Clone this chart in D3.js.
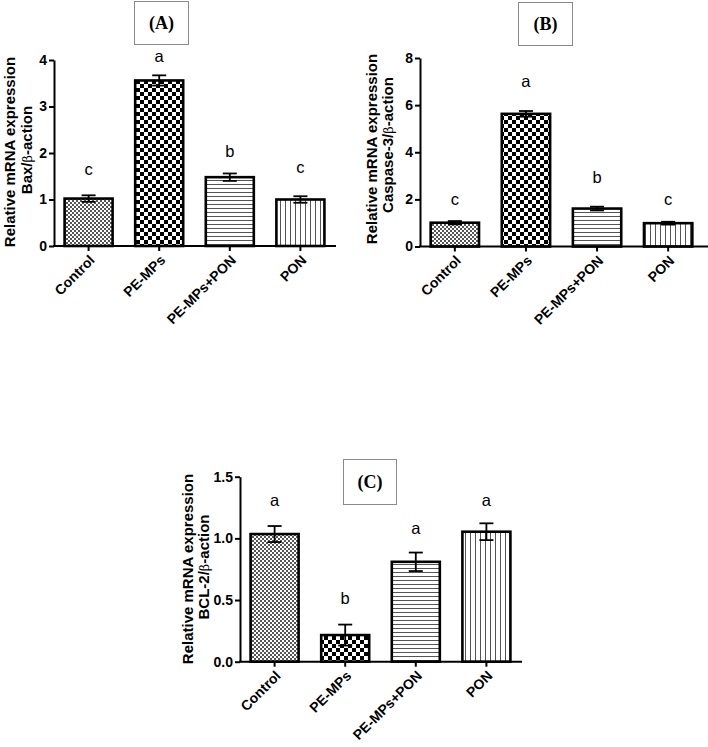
<!DOCTYPE html>
<html>
<head>
<meta charset="utf-8">
<script src="https://cdn.jsdelivr.net/npm/d3@7"></script>
<style>
  html, body { margin: 0; padding: 0; background: #fff; }
  svg { display: block; }
</style>
</head>
<body>
<svg id="chart" width="708" height="747"></svg>
<script>
// ---------- DATA ----------
const categories = ["Control", "PE-MPs", "PE-MPs+PON", "PON"];

const baxValues = [1.02, 3.56, 1.48, 1.00];
const baxErrors = [0.07, 0.11, 0.08, 0.07];
const baxLetters = ["c", "a", "b", "c"];
const baxLetterPos = [1.53, 3.96, 1.91, 1.57];
const baxTicks = [0, 1, 2, 3, 4];

const caspValues = [1.01, 5.63, 1.61, 0.99];
const caspErrors = [0.07, 0.12, 0.08, 0.06];
const caspLetters = ["c", "a", "b", "c"];
const caspLetterPos = [1.76, 6.76, 2.69, 1.76];
const caspTicks = [0, 2, 4, 6, 8];

const bclValues = [1.035, 0.216, 0.81, 1.054];
const bclErrors = [0.065, 0.085, 0.075, 0.068];
const bclLetters = ["a", "b", "a", "a"];
const bclLetterPos = [1.263, 0.468, 1.036, 1.263];
const bclTicks = [0, 0.5, 1.0, 1.5];

const panelTitles = ["(A)", "(B)", "(C)"];
const yLabelLine1 = "Relative mRNA expression";
const yLabelGenes = ["Bax", "Caspase-3", "BCL-2"];

// ---------- SVG + PATTERNS ----------
const svg = d3.select("#chart");
const defs = svg.append("defs");

// fine checker (Control)
const p0 = defs.append("pattern").attr("id", "pFine").attr("patternUnits", "userSpaceOnUse")
  .attr("width", 4).attr("height", 4);
p0.append("rect").attr("width", 4).attr("height", 4).attr("fill", "#fff");
p0.append("rect").attr("x", 0).attr("y", 0).attr("width", 2).attr("height", 2).attr("fill", "#555");
p0.append("rect").attr("x", 2).attr("y", 2).attr("width", 2).attr("height", 2).attr("fill", "#555");

// coarse checker (PE-MPs)
const p1 = defs.append("pattern").attr("id", "pCoarse").attr("patternUnits", "userSpaceOnUse")
  .attr("width", 8).attr("height", 8);
p1.append("rect").attr("width", 8).attr("height", 8).attr("fill", "#fff");
p1.append("rect").attr("x", 0).attr("y", 0).attr("width", 4).attr("height", 4).attr("fill", "#000");
p1.append("rect").attr("x", 4).attr("y", 4).attr("width", 4).attr("height", 4).attr("fill", "#000");

// horizontal lines (PE-MPs+PON)
const p2 = defs.append("pattern").attr("id", "pHoriz").attr("patternUnits", "userSpaceOnUse")
  .attr("width", 4).attr("height", 4);
p2.append("rect").attr("width", 4).attr("height", 4).attr("fill", "#fff");
p2.append("rect").attr("x", 0).attr("y", 0).attr("width", 4).attr("height", 1).attr("fill", "#555");

// vertical lines (PON)
const p3 = defs.append("pattern").attr("id", "pVert").attr("patternUnits", "userSpaceOnUse")
  .attr("width", 5).attr("height", 5);
p3.append("rect").attr("width", 5).attr("height", 5).attr("fill", "#fff");
p3.append("rect").attr("x", 0).attr("y", 0).attr("width", 1).attr("height", 5).attr("fill", "#555");

const fills = ["url(#pFine)", "url(#pCoarse)", "url(#pHoriz)", "url(#pVert)"];

// ---------- PANEL DRAWING ----------
function drawPanel(cfg) {
  const g = svg.append("g");
  const x = d3.scaleBand().domain(categories).range([cfg.x0, cfg.x1])
    .paddingInner(0.32).paddingOuter(0.15);
  const y = d3.scaleLinear().domain([0, d3.max(cfg.ticks)]).range([cfg.y0, cfg.yTop]);

  const rows = categories.map((c, i) => ({
    c, v: cfg.values[i], e: cfg.errors[i], l: cfg.letters[i], lp: cfg.letterPos[i], f: fills[i]
  }));

  // bars
  g.selectAll("rect.bar").data(rows).enter().append("rect")
    .attr("class", "bar")
    .attr("x", d => x(d.c))
    .attr("y", d => y(d.v))
    .attr("width", x.bandwidth())
    .attr("height", d => y(0) - y(d.v))
    .attr("fill", d => d.f)
    .attr("stroke", "#000")
    .attr("stroke-width", 2.6);

  // error bars
  const eb = g.selectAll("g.err").data(rows).enter().append("g").attr("class", "err");
  eb.append("line")
    .attr("x1", d => x(d.c) + x.bandwidth() / 2).attr("x2", d => x(d.c) + x.bandwidth() / 2)
    .attr("y1", d => y(d.v - d.e)).attr("y2", d => y(d.v + d.e))
    .attr("stroke", "#000").attr("stroke-width", 1.8);
  eb.append("line")
    .attr("x1", d => x(d.c) + x.bandwidth() / 2 - 7).attr("x2", d => x(d.c) + x.bandwidth() / 2 + 7)
    .attr("y1", d => y(d.v + d.e)).attr("y2", d => y(d.v + d.e))
    .attr("stroke", "#000").attr("stroke-width", 1.8);
  eb.append("line")
    .attr("x1", d => x(d.c) + x.bandwidth() / 2 - 7).attr("x2", d => x(d.c) + x.bandwidth() / 2 + 7)
    .attr("y1", d => y(d.v - d.e)).attr("y2", d => y(d.v - d.e))
    .attr("stroke", "#000").attr("stroke-width", 1.8);

  // significance letters
  g.selectAll("text.sig").data(rows).enter().append("text")
    .attr("class", "sig")
    .attr("x", d => x(d.c) + x.bandwidth() / 2)
    .attr("y", d => y(d.lp))
    .attr("text-anchor", "middle")
    .attr("font-family", "Liberation Sans, Arial, sans-serif")
    .attr("font-size", 16.5)
    .attr("fill", "#000")
    .text(d => d.l);

  // y axis
  const ya = g.append("g").attr("transform", `translate(${cfg.x0},0)`)
    .call(d3.axisLeft(y).tickValues(cfg.ticks).tickSize(5).tickSizeOuter(0).tickPadding(2)
      .tickFormat(cfg.fmt));
  ya.select(".domain").attr("stroke", "#000").attr("stroke-width", 2);
  ya.selectAll(".tick line").attr("stroke", "#000").attr("stroke-width", 2);
  ya.selectAll(".tick text")
    .attr("font-family", "Liberation Sans, Arial, sans-serif")
    .attr("font-weight", "bold").attr("font-size", 14).attr("fill", "#000");

  // x axis
  const xa = g.append("g").attr("transform", `translate(0,${cfg.y0})`)
    .call(d3.axisBottom(x).tickSize(5).tickSizeOuter(0));
  xa.select(".domain").remove();
  xa.append("line").attr("x1", cfg.x0 - 1).attr("x2", cfg.xEnd).attr("y1", 0).attr("y2", 0)
    .attr("stroke", "#000").attr("stroke-width", 2);
  xa.selectAll(".tick line").attr("stroke", "#000").attr("stroke-width", 2);
  xa.selectAll(".tick text")
    .attr("font-family", "Liberation Sans, Arial, sans-serif")
    .attr("font-weight", "bold").attr("font-size", 14).attr("fill", "#000")
    .attr("text-anchor", "end")
    .attr("y", 0).attr("dy", 0)
    .attr("transform", "translate(7,15) rotate(-45)");

  // y label (two lines)
  g.append("text")
    .attr("transform", `translate(${cfg.lx1},${cfg.ly}) rotate(-90)`)
    .attr("text-anchor", "middle")
    .attr("font-family", "Liberation Sans, Arial, sans-serif")
    .attr("font-weight", "bold").attr("font-size", 15).attr("fill", "#000")
    .text(yLabelLine1);
  const yl2 = g.append("text")
    .attr("transform", `translate(${cfg.lx2},${cfg.ly2}) rotate(-90)`)
    .attr("text-anchor", "middle")
    .attr("font-family", "Liberation Sans, Arial, sans-serif")
    .attr("font-weight", "bold").attr("font-size", 15).attr("fill", "#000");
  yl2.append("tspan").text(cfg.gene + "/");
  yl2.append("tspan").attr("font-weight", "normal").attr("font-family", "DejaVu Serif, serif").attr("font-size", 13).text("β");
  yl2.append("tspan").text("-action");

  // title box
  g.append("rect").attr("x", cfg.bx).attr("y", cfg.by).attr("width", cfg.bw).attr("height", cfg.bh)
    .attr("fill", "#fff").attr("stroke", "#8a8a8a").attr("stroke-width", 1);
  g.append("text").attr("x", cfg.bx + cfg.bw / 2).attr("y", cfg.by + cfg.bh / 2 + 6)
    .attr("text-anchor", "middle")
    .attr("font-family", "Liberation Serif, Times New Roman, serif")
    .attr("font-weight", "bold").attr("font-size", 18).attr("fill", "#000")
    .text(cfg.title);
}

drawPanel({
  values: baxValues, errors: baxErrors, letters: baxLetters, letterPos: baxLetterPos,
  ticks: baxTicks, fmt: d3.format("d"), gene: yLabelGenes[0], title: panelTitles[0],
  x0: 54, x1: 335, xEnd: 336, y0: 246, yTop: 60,
  lx1: 15, lx2: 32, ly: 152, ly2: 150,
  bx: 134.5, by: 1.5, bw: 54, bh: 43
});

drawPanel({
  values: caspValues, errors: caspErrors, letters: caspLetters, letterPos: caspLetterPos,
  ticks: caspTicks, fmt: d3.format("d"), gene: yLabelGenes[1], title: panelTitles[1],
  x0: 420, x1: 703, xEnd: 708, y0: 246.5, yTop: 58,
  lx1: 377, lx2: 393, ly: 149, ly2: 145,
  bx: 518.5, by: 2.5, bw: 54, bh: 43
});

drawPanel({
  values: bclValues, errors: bclErrors, letters: bclLetters, letterPos: bclLetterPos,
  ticks: bclTicks, fmt: d3.format(".1f"), gene: yLabelGenes[2], title: panelTitles[2],
  x0: 240, x1: 521, xEnd: 522, y0: 661.7, yTop: 476.7,
  lx1: 193, lx2: 209, ly: 569, ly2: 567,
  bx: 343.5, by: 459.5, bw: 53, bh: 45
});
</script>
</body>
</html>
